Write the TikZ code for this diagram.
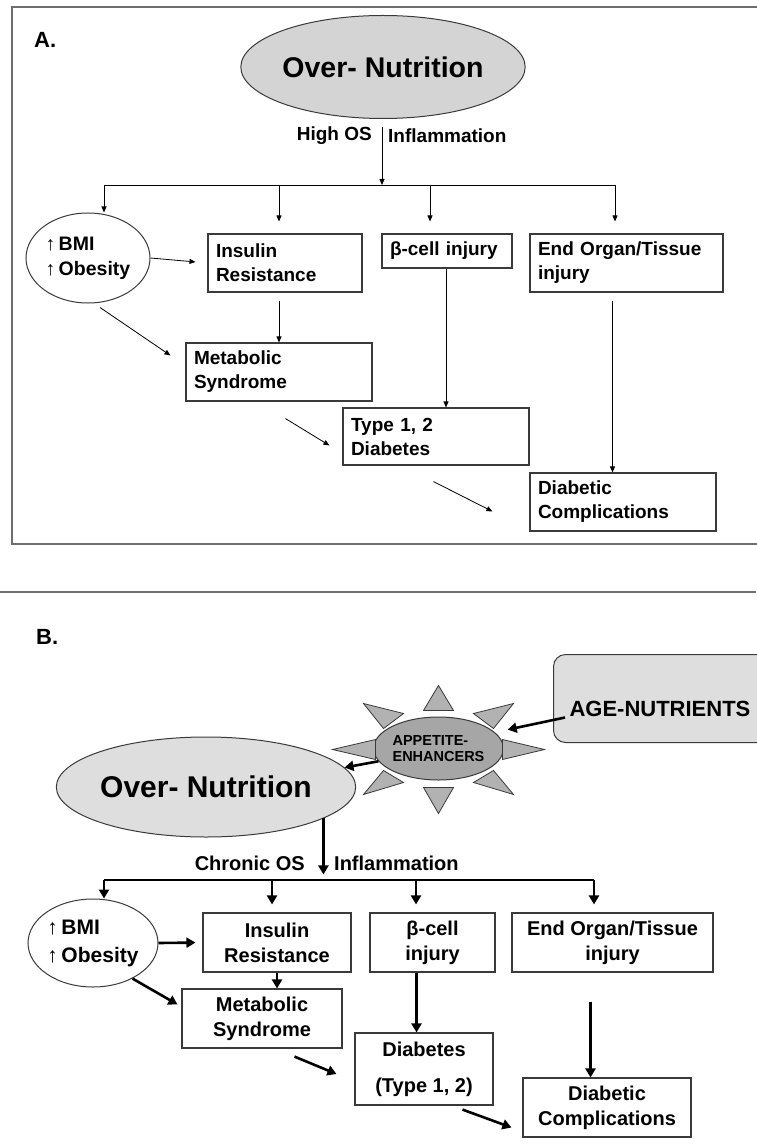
\documentclass[tikz,border=0pt]{standalone}
\usepackage{fontspec}
\setmainfont{Liberation Sans}
\usetikzlibrary{shapes.geometric,arrows.meta}
\definecolor{frameline}{HTML}{6E6E6E}
\definecolor{boxline}{HTML}{3A3A3A}
\definecolor{ovalfill}{HTML}{D4D4D4}
\definecolor{palefill}{HTML}{DEDEDE}
\definecolor{starfill}{HTML}{A6A6A6}
\definecolor{rayfill}{HTML}{B2B2B2}
\newcommand{\upar}{{\mdseries ↑}\,}

\begin{document}
\begin{tikzpicture}[
  x=1pt, y=-1pt,
  every node/.style={inner sep=1pt, font=\bfseries},
  frame/.style={draw=frameline, line width=1.5pt},
  oval/.style={ellipse, draw=boxline, line width=1pt, fill=ovalfill, inner sep=0pt},
  boxA/.style={draw=boxline, line width=1.1pt, fill=white, inner xsep=8pt, inner ysep=0pt,
    align=left, font=\fontsize{19}{24}\selectfont\bfseries},
  boxB/.style={draw=boxline, line width=1.1pt, fill=white, inner sep=0pt,
    align=center, font=\fontsize{20}{25}\selectfont\bfseries},
  lbl/.style={font=\fontsize{19}{23}\selectfont\bfseries},
  ray/.style={draw=boxline, line width=0.8pt, fill=rayfill},
  arrA/.style={draw, line width=0.8pt, -{Triangle[length=6pt,width=5pt]}},
  arrB/.style={draw, line width=2.6pt, -{Triangle[length=9pt,width=10pt]}}]

  \useasboundingbox (0,0) rectangle (756,1147);

  % panel frames
  \draw[frame] (12,7) rectangle (790,544);
  \draw[frame] (0,592) -- (756,592);

  % panel A: vertices
  \node[anchor=west, font=\fontsize{22}{24}\selectfont\bfseries] (tagA) at (33,40) {A.};
  \node[oval, minimum width=271pt, minimum height=103pt,
    font=\fontsize{28.5}{32}\selectfont\bfseries] (ovA) at (383,67) {Over- Nutrition};
  \node[oval, fill=white, minimum width=124pt, minimum height=90pt, align=left,
    font=\fontsize{19.5}{25}\selectfont\bfseries] (bmiA) at (88,258) {\upar BMI\\\upar Obesity};
  \node[boxA, text width=138pt, minimum height=58pt] (irA)   at (285,263)   {Insulin\\Resistance};
  \node[boxA, text width=114pt, minimum height=34pt] (betaA) at (447,251)   {β-cell injury};
  \node[boxA, text width=177pt, minimum height=58pt] (eoA)   at (626.5,263) {End Organ/Tissue\\injury};
  \node[boxA, text width=170pt, minimum height=58pt] (msA)   at (279,372)   {Metabolic\\Syndrome};
  \node[boxA, text width=170pt, minimum height=57pt] (t2A)   at (436,436.5) {Type 1, 2\\Diabetes};
  \node[boxA, text width=170pt, minimum height=58pt] (dcA)   at (623,502)   {Diabetic\\Complications};

  % panel A: labels and bus
  \node[lbl, anchor=east] (hosA)  at (373,136) {High OS};
  \node[lbl, anchor=west] (infA)  at (387,136) {Inflammation};
  \coordinate (busA)  at (382,185);
  \coordinate (tapA1) at (104,185);
  \coordinate (tapA2) at (279,185);
  \coordinate (tapA3) at (430,185);
  \coordinate (tapA4) at (615,185);

  % panel A: arrows
  \draw[arrA] ([shift={(-1,8)}]ovA.south) -- (busA);
  \draw[draw, line width=0.8pt] (tapA1) -- (tapA4);
  \draw[arrA] (tapA1) -- (tapA1 |- bmiA.north);
  \draw[arrA, shorten >=12pt] (tapA2) -- (tapA2 |- irA.north);
  \draw[arrA, shorten >=12pt] (tapA3) -- (tapA3 |- betaA.north);
  \draw[arrA, shorten >=12pt] (tapA4) -- (tapA4 |- eoA.north);
  \draw[arrA, shorten >=12pt] (bmiA.east) -- (irA.west);
  \draw[arrA, shorten <=8pt] (msA.north |- irA.south) -- (msA.north);
  \draw[arrA] ([xshift=-1pt]betaA.south) -- ([xshift=-1pt]betaA.south |- t2A.north);
  \draw[arrA, shorten <=8pt] ([xshift=-14pt]eoA.south) -- ([xshift=-14pt]eoA.south |- dcA.north);
  \draw[arrA] ([shift={(12,4)}]bmiA.south) -- ([shift={(-15,13)}]msA.north west);
  \draw[arrA] ([shift={(100,17)}]msA.south west) -- ([shift={(-13,38)}]t2A.north west);
  \draw[arrA] ([shift={(91,16)}]t2A.south west) -- ([shift={(-37,39)}]dcA.north west);

  % panel B: vertices
  \node[anchor=west, font=\fontsize{22}{24}\selectfont\bfseries] (tagB) at (35,637) {B.};
  \node[draw=boxline, line width=1pt, fill=palefill, rounded corners=12pt, anchor=north west,
    text width=208pt, align=left, minimum height=88pt, inner xsep=16pt,
    font=\fontsize{22}{26}\selectfont\bfseries] (ageB) at (553,654)
    {\raisebox{-10pt}[\height][\depth]{AGE-NUTRIENTS}};
  \node[oval, fill=starfill, minimum width=107pt, minimum height=63pt, align=left,
    font=\fontsize{14.5}{16}\selectfont\bfseries] (appB) at (438.5,748.5) {APPETITE-\\ENHANCERS};
  \node[oval, fill=palefill, minimum width=280pt, minimum height=100pt,
    font=\fontsize{30}{34}\selectfont\bfseries] (ovB) at (206,787) {Over- Nutrition};
  \node[oval, fill=white, minimum width=130pt, minimum height=88pt, align=left,
    font=\fontsize{21}{28}\selectfont\bfseries] (bmiB) at (93,943) {\upar BMI\\\upar Obesity};
  \node[boxB, minimum width=148pt, minimum height=59pt] (irB)   at (277,942.5)  {Insulin\\Resistance};
  \node[boxB, minimum width=125pt, minimum height=59pt] (betaB) at (432.5,942.5) {β-cell\\injury};
  \node[boxB, minimum width=201pt, minimum height=59pt] (eoB)   at (612.5,942.5) {End Organ/Tissue\\injury};
  \node[boxB, minimum width=160pt, minimum height=59pt] (msB)   at (262,1018.5) {Metabolic\\Syndrome};
  \node[boxB, minimum width=138pt, minimum height=72pt] (diabB) at (424,1069)   {Diabetes\\[11pt](Type 1, 2)};
  \node[boxB, minimum width=168pt, minimum height=59pt] (dcB)   at (607,1107.5) {Diabetic\\Complications};

  % rays round the appetite enhancers
  \begin{scope}[shift={(appB.center)}]
    \draw[ray] (0,-63) -- (-15,-38) -- (15,-38) -- cycle;
    \draw[ray] (0,65) -- (-15,39) -- (15,39) -- cycle;
    \draw[ray] (-106,1) -- (-63,-9) -- (-63,11) -- cycle;
    \draw[ray] (106,1) -- (64,-9) -- (64,11) -- cycle;
    \draw[ray] (-75,-45) -- (-35,-35) -- (-55,-20) -- cycle;
    \draw[ray] (75,-45) -- (35,-35) -- (55,-20) -- cycle;
    \draw[ray] (-75,46) -- (-35,34) -- (-55,22) -- cycle;
    \draw[ray] (75,46) -- (35,34) -- (55,22) -- cycle;
  \end{scope}

  % panel B: labels and bus
  \node[lbl, anchor=east, font=\fontsize{20}{24}\selectfont\bfseries] (cosB) at (306,863) {Chronic OS};
  \node[lbl, anchor=west, font=\fontsize{20}{24}\selectfont\bfseries] (infB) at (333,863) {Inflammation};
  \coordinate (tapB1) at (104,880);
  \coordinate (tapB2) at (272,880);
  \coordinate (tapB3) at (416,880);
  \coordinate (tapB4) at (594,880);

  % panel B: arrows
  \draw[arrB, shorten >=13pt] ([shift={(12,19)}]ageB.west) -- (appB.16);
  \draw[arrB] (appB.192) -- (ovB.8);
  \draw[arrB] (ovB.-15) -- ++(0,56);
  \draw[line width=2.6pt] (tapB1) -- (tapB4);
  \draw[arrB] (tapB1) -- (tapB1 |- bmiB.north);
  \draw[arrB, shorten >=8pt] (tapB2) -- (tapB2 |- irB.north);
  \draw[arrB, shorten >=8pt] (tapB3) -- (tapB3 |- betaB.north);
  \draw[arrB, shorten >=8pt] (tapB4) -- (tapB4 |- eoB.north);
  \draw[arrB, shorten >=7pt] (bmiB.east) -- (irB.west);
  \draw[arrB] (irB.south) -- (irB.south |- msB.north);
  \draw[arrB] (bmiB.-42) -- ([shift={(-4,16)}]msB.north west);
  \draw[arrB] ([xshift=-16pt]betaB.south) -- ([xshift=-16pt]betaB.south |- diabB.north);
  \draw[arrB] ([shift={(-22,29)}]eoB.south) -- ([xshift=-22pt]eoB.south |- dcB.north);
  \draw[arrB] ([shift={(113,8)}]msB.south west) -- ([shift={(-18,5)}]diabB.west);
  \draw[arrB] ([shift={(108,4)}]diabB.south west) -- ([shift={(-11,20)}]dcB.west);
\end{tikzpicture}
\end{document}
